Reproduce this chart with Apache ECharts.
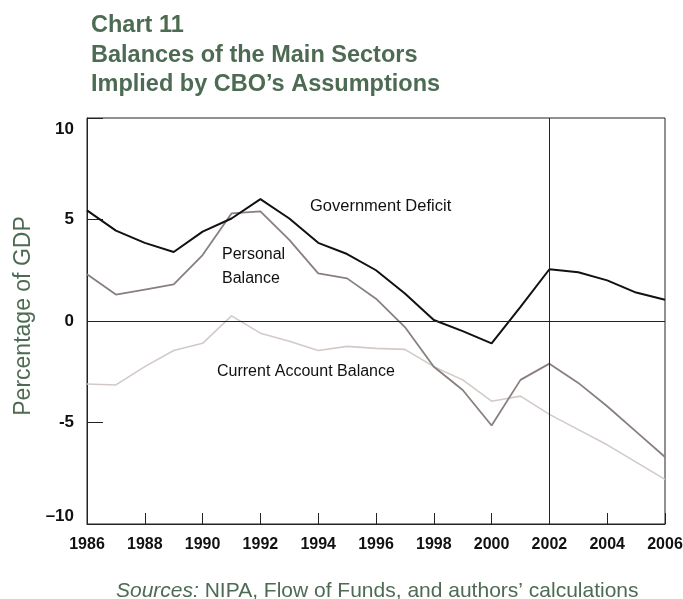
<!DOCTYPE html>
<html>
<head>
<meta charset="utf-8">
<script src="https://cdn.jsdelivr.net/npm/echarts@6/dist/echarts.min.js"></script>
<style>
  html, body { margin: 0; padding: 0; background: #fff; }
  #chart { width: 683px; height: 599px; }
</style>
</head>
<body>
<div id="chart"></div>
<script>
const years = [1986, 1987, 1988, 1989, 1990, 1991, 1992, 1993, 1994, 1995, 1996,
  1997, 1998, 1999, 2000, 2001, 2002, 2003, 2004, 2005, 2006];
const govDeficit = [5.45, 4.45, 3.85, 3.4, 4.4, 5.05, 6.0, 5.05, 3.85, 3.3, 2.5,
  1.35, 0.05, -0.5, -1.1, 0.7, 2.55, 2.4, 2.0, 1.4, 1.05];
const personalBalance = [2.3, 1.3, 1.55, 1.8, 3.25, 5.3, 5.4, 4.0, 2.35, 2.1, 1.1,
  -0.3, -2.25, -3.4, -5.15, -2.9, -2.1, -3.05, -4.2, -5.45, -6.7];
const currentAccount = [-3.1, -3.15, -2.25, -1.45, -1.1, 0.25, -0.6, -1.0, -1.45, -1.25, -1.35,
  -1.4, -2.25, -2.9, -3.95, -3.7, -4.6, -5.35, -6.1, -6.95, -7.8];
const yTicks = [-10, -5, 0, 5, 10];
const yTickLabels = ['\u201310', '-5', '0', '5', '10'];

const green = '#4d6b53';
const sans = '"Liberation Sans", Arial, sans-serif';
const pairs = vals => years.map((y, i) => [y, vals[i]]);

const chart = echarts.init(document.getElementById('chart'));

const options = {
  backgroundColor: '#fff',
  animation: false,
  title: [
    {
      text: 'Chart 11\nBalances of the Main Sectors\nImplied by CBO\u2019s Assumptions',
      left: 86,
      top: 6,
      textStyle: {
        color: green,
        fontFamily: sans,
        fontWeight: 'bold',
        fontSize: 23.5,
        lineHeight: 29.5
      }
    },
    {
      text: '{i|Sources:} NIPA, Flow of Funds, and authors\u2019 calculations',
      left: 111,
      top: 576,
      textStyle: {
        color: green,
        fontFamily: sans,
        fontWeight: 'normal',
        fontSize: 21,
        rich: {
          i: { fontStyle: 'italic', color: green, fontSize: 21, fontFamily: sans }
        }
      }
    }
  ],
  grid: {
    left: 87, right: 18, top: 118, bottom: 75,
    outerBoundsMode: 'none',
    show: true, borderColor: '#222', borderWidth: 1
  },
  xAxis: {
    type: 'value',
    min: 1986, max: 2006, interval: 2,
    axisLine: { show: true, onZero: false, lineStyle: { color: '#222' } },
    axisTick: { show: true, inside: true, length: 11, lineStyle: { color: '#222' } },
    splitLine: { show: false },
    axisLabel: {
      formatter: v => String(v),
      color: '#111',
      fontFamily: sans,
      fontWeight: 'bold',
      fontSize: 16,
      margin: 13
    }
  },
  yAxis: {
    type: 'value',
    min: -10, max: 10, interval: 5,
    name: 'Percentage of GDP',
    nameLocation: 'middle',
    nameGap: 50,
    nameTextStyle: {
      color: green,
      fontFamily: sans,
      fontSize: 23,
      padding: [0, 0, 0, 10]
    },
    axisLine: { show: true, onZero: false, lineStyle: { color: '#222' } },
    axisTick: { show: true, inside: true, length: 16, lineStyle: { color: '#222' } },
    splitLine: { show: false },
    axisLabel: {
      color: '#111',
      fontFamily: sans,
      fontWeight: 'bold',
      fontSize: 17,
      margin: 13,
      formatter: v => {
        const lab = yTickLabels[yTicks.indexOf(v)];
        if (v === 10) return '{t|' + lab + '}';
        if (v === -10) return '{b|' + lab + '}';
        return lab;
      },
      rich: {
        t: { padding: [22, 0, 0, 0], fontWeight: 'bold', fontSize: 17, color: '#111', fontFamily: sans },
        b: { padding: [0, 0, 15, 0], fontWeight: 'bold', fontSize: 17, color: '#111', fontFamily: sans }
      }
    }
  },
  series: [
    {
      name: 'Current Account Balance',
      type: 'line',
      data: pairs(currentAccount),
      showSymbol: false,
      lineStyle: { color: '#d2cac6', width: 1.6 },
      markLine: {
        silent: true,
        symbol: 'none',
        label: { show: false },
        lineStyle: { color: '#222', width: 1, type: 'solid' },
        data: [{ yAxis: 0 }, { xAxis: 2002 }]
      }
    },
    {
      name: 'Personal Balance',
      type: 'line',
      data: pairs(personalBalance),
      showSymbol: false,
      lineStyle: { color: '#8a7f7f', width: 1.8 }
    },
    {
      name: 'Government Deficit',
      type: 'line',
      data: pairs(govDeficit),
      showSymbol: false,
      lineStyle: { color: '#111', width: 2 }
    }
  ],
  graphic: [
    { type: 'text', left: 310, top: 198, style: { text: 'Government Deficit', fill: '#111', font: '16.5px ' + sans } },
    { type: 'text', left: 222, top: 247, style: { text: 'Personal', fill: '#111', font: '16px ' + sans } },
    { type: 'text', left: 222, top: 271, style: { text: 'Balance', fill: '#111', font: '16px ' + sans } },
    { type: 'text', left: 217, top: 364, style: { text: 'Current Account Balance', fill: '#111', font: '16px ' + sans } }
  ]
};

chart.setOption(options);
</script>
</body>
</html>
